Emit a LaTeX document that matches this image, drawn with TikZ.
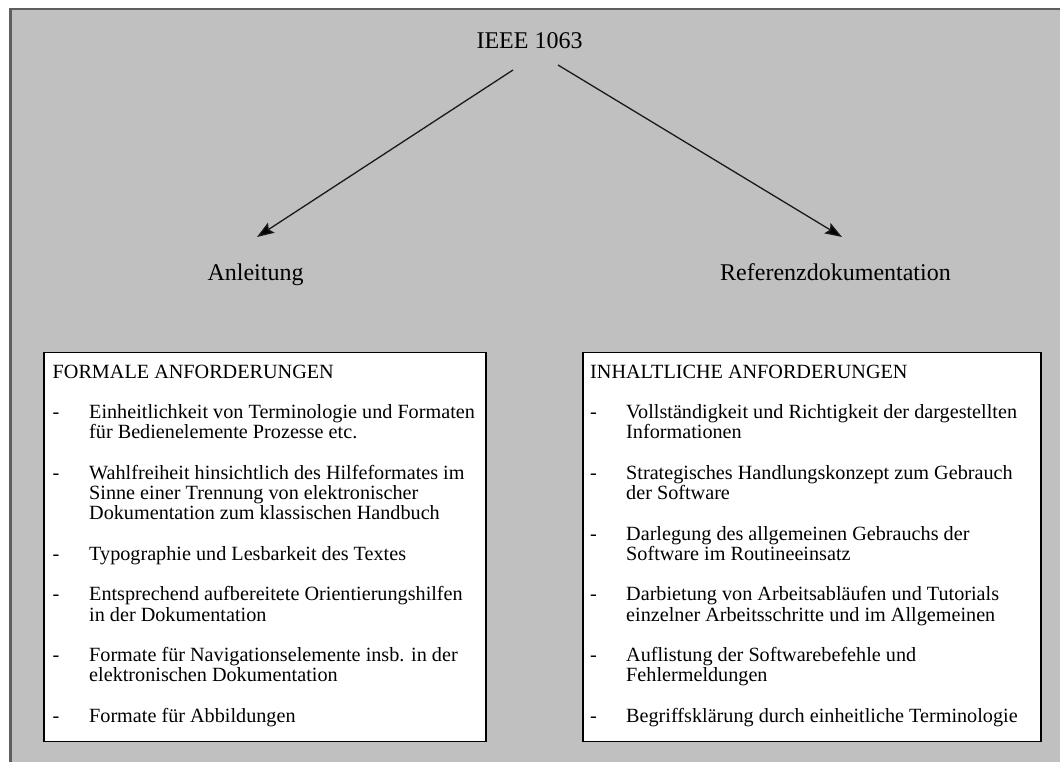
\documentclass[tikz,border=0pt]{standalone}
\usepackage{fontspec}
\setmainfont{Liberation Serif}
\usetikzlibrary{arrows.meta}
\definecolor{panelgray}{HTML}{C0C0C0}
\definecolor{framegray}{HTML}{5E5E5E}
\begin{document}
\begin{tikzpicture}[x=1pt,y=-1pt,
  toplabel/.style={inner sep=0pt, anchor=base, font=\fontsize{24}{28}\selectfont},
  reqbox/.style={draw=black, line width=1.5pt, fill=white, anchor=north west,
    minimum height=389pt, inner sep=0pt},
  reqtext/.style={inner sep=0pt, anchor=base west, font=\fontsize{20.2}{20.25}\selectfont},
  branch/.style={draw=black!90, line width=1.3pt,
    -{Stealth[length=17pt,width=12pt,inset=3pt,fill=black]}}]

% canvas and grey panel
\useasboundingbox (0,0) rectangle (1060,762);
\fill[white] (0,0) rectangle (1060,762);
\fill[panelgray] (9,8) rectangle (1060,762);
\draw[framegray, line width=2.5pt] (10.25,762) -- (10.25,9.25) -- (1060,9.25);

% standard and its two document types
\node[toplabel] (ieee) at (529.5,49) {IEEE 1063};
\node[toplabel] (anleitung) at (255.5,280) {Anleitung};
\node[toplabel] (referenz) at (835.5,280) {Referenzdokumentation};

\coordinate (ieeeL) at (513,70);
\coordinate (ieeeR) at (558,65);
\coordinate (anlTop) at (257,237);
\coordinate (refTop) at (842,237);
\draw[branch] (ieeeL) -- (anlTop);
\draw[branch] (ieeeR) -- (refTop);

% requirement boxes
\node[reqbox, minimum width=442pt] (formalbox) at (43,351.5) {};
\node[reqbox, minimum width=458pt] (inhaltbox) at (582,351.5) {};

\node[reqtext] (formaltext) at (52.5,378) {%
\begin{tabular}[t]{@{}p{36.5pt}@{}l@{}}
\multicolumn{2}{@{}l@{}}{FORMALE ANFORDERUNGEN}\\
\\
- & Einheitlichkeit von Terminologie und Formaten\\
  & für Bedienelemente Prozesse etc.\\
\\
- & Wahlfreiheit hinsichtlich des Hilfeformates im\\
  & Sinne einer Trennung von elektronischer\\
  & Dokumentation zum klassischen Handbuch\\
\\
- & Typographie und Lesbarkeit des Textes\\
\\
- & Entsprechend aufbereitete Orientierungshilfen\\
  & in der Dokumentation\\
\\
- & Formate für Navigationselemente insb. in der\\
  & elektronischen Dokumentation\\
\\
- & Formate für Abbildungen
\end{tabular}};

\node[reqtext] (inhalttext) at (590,378) {%
\begin{tabular}[t]{@{}p{36pt}@{}l@{}}
\multicolumn{2}{@{}l@{}}{INHALTLICHE ANFORDERUNGEN}\\
\\
- & Vollständigkeit und Richtigkeit der dargestellten\\
  & Informationen\\
\\
- & Strategisches Handlungskonzept zum Gebrauch\\
  & der Software\\
\\
- & Darlegung des allgemeinen Gebrauchs der\\
  & Software im Routineeinsatz\\
\\
- & Darbietung von Arbeitsabläufen und Tutorials\\
  & einzelner Arbeitsschritte und im Allgemeinen\\
\\
- & Auflistung der Softwarebefehle und\\
  & Fehlermeldungen\\
\\
- & Begriffsklärung durch einheitliche Terminologie
\end{tabular}};

\end{tikzpicture}
\end{document}
